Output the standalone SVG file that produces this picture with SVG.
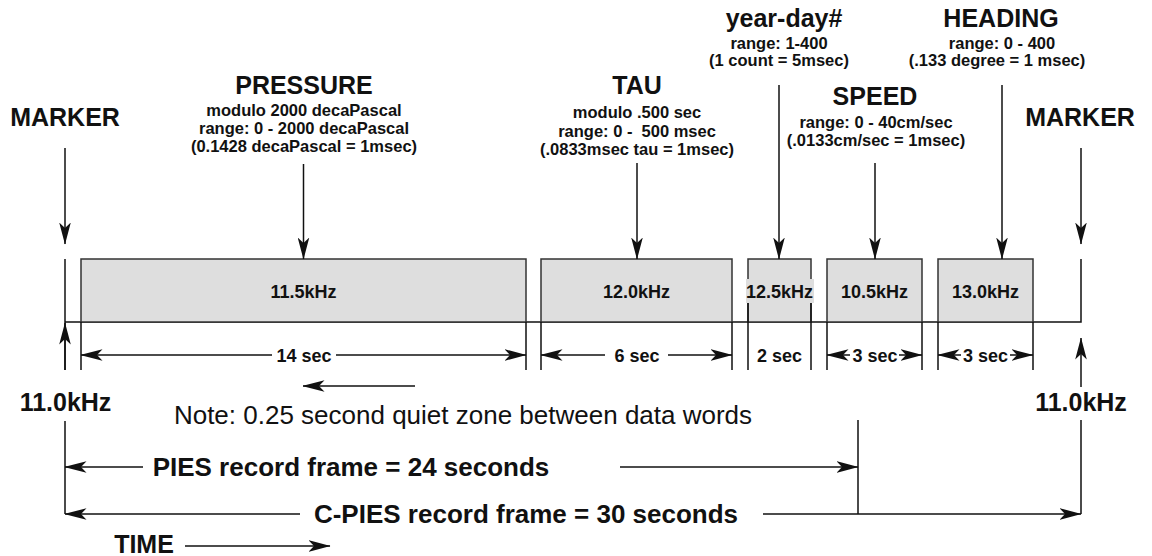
<svg xmlns="http://www.w3.org/2000/svg" width="1152" height="556" viewBox="0 0 1152 556">
  <defs>
    <!-- slim filled arrowhead with notched back, tip at refX -->
    <marker id="arrow" viewBox="0 0 22 12" markerWidth="22" markerHeight="12" refX="21.5" refY="6" orient="auto" markerUnits="userSpaceOnUse">
      <path d="M0,0.2 L22,6 L0,11.8 L5.5,6 Z" fill="#111"/>
    </marker>
  </defs>
  <style>
    text{font-family:"Liberation Sans",Arial,Helvetica,sans-serif;font-weight:bold;fill:#111;text-anchor:middle}
    .h{font-size:25px}
    .f{font-size:26px}
    .s{font-size:16.5px}
    .b{font-size:18px}
    .note{font-weight:normal;font-size:26px}
    .pre{white-space:pre}
    .ln{stroke:#111;stroke-width:1.5;fill:none}
    .arr{stroke:#111;stroke-width:1.5;fill:none;marker-end:url(#arrow)}
    .box{fill:#dedede;stroke:#333;stroke-width:1.5}
    .lblbg{fill:#dedede}
  </style>

  <rect x="0" y="0" width="1152" height="556" fill="#ffffff"/>

  <!-- time axis (11.0 kHz carrier level) -->
  <g id="axis">
    <path class="ln" d="M65,322 H1081 V259"/>
    <path class="ln" d="M65,259 V370"/>
  </g>

  <!-- data word bursts -->
  <g id="word-pressure">
    <rect class="box" x="81" y="259" width="445" height="63"/>
    <text class="b" x="303.5" y="298">11.5kHz</text>
  </g>
  <g id="word-tau">
    <rect class="box" x="541" y="259" width="191" height="63"/>
    <text class="b" x="636.5" y="298">12.0kHz</text>
  </g>
  <g id="word-yearday">
    <rect class="box" x="748" y="259" width="63" height="63"/>
    <rect class="lblbg" x="746" y="279" width="68" height="24"/>
    <text class="b" x="779.5" y="298">12.5kHz</text>
  </g>
  <g id="word-speed">
    <rect class="box" x="827" y="259" width="95" height="63"/>
    <text class="b" x="874.5" y="298">10.5kHz</text>
  </g>
  <g id="word-heading">
    <rect class="box" x="938" y="259" width="95" height="63"/>
    <text class="b" x="985.5" y="298">13.0kHz</text>
  </g>

  <!-- duration extension lines -->
  <g id="ticks">
    <path class="ln" d="M81,322 V370 M526,322 V370 M541,322 V370 M732,322 V370 M748,303 V370 M811,303 V370 M827,322 V370 M922,322 V370 M938,322 V370 M1033,322 V370"/>
  </g>

  <!-- field descriptions -->
  <g id="marker-left">
    <text class="h" x="65" y="126">MARKER</text>
  </g>
  <g id="pressure">
    <text class="h" x="304" y="94">PRESSURE</text>
    <text class="s" x="304" y="116">modulo 2000 decaPascal</text>
    <text class="s" x="304" y="134">range: 0 - 2000 decaPascal</text>
    <text class="s" x="304" y="152">(0.1428 decaPascal = 1msec)</text>
  </g>
  <g id="tau">
    <text class="h" x="637" y="94">TAU</text>
    <text class="s" x="637" y="118">modulo .500 sec</text>
    <text class="s pre" x="637" y="137">range: 0 -  500 msec</text>
    <text class="s" x="637" y="155">(.0833msec tau = 1msec)</text>
  </g>
  <g id="yearday">
    <text class="h" x="784" y="27">year-day#</text>
    <text class="s" x="779" y="49">range: 1-400</text>
    <text class="s" x="779" y="66">(1 count = 5msec)</text>
  </g>
  <g id="speed">
    <text class="h" x="875" y="105">SPEED</text>
    <text class="s" x="876" y="128">range: 0 - 40cm/sec</text>
    <text class="s" x="876" y="146">(.0133cm/sec = 1msec)</text>
  </g>
  <g id="heading">
    <text class="h" x="1001" y="27">HEADING</text>
    <text class="s" x="1002" y="49">range: 0 - 400</text>
    <text class="s" x="997" y="66">(.133 degree = 1 msec)</text>
  </g>
  <g id="marker-right">
    <text class="h" x="1080" y="126">MARKER</text>
  </g>

  <!-- durations -->
  <g id="dur-14">
    <text class="b" x="304" y="361.5">14 sec</text>
  </g>
  <g id="dur-6">
    <text class="b" x="637" y="361.5">6 sec</text>
  </g>
  <g id="dur-2">
    <text class="b" x="779.5" y="361.5">2 sec</text>
  </g>
  <g id="dur-3a">
    <text class="b" x="875" y="361.5">3 sec</text>
  </g>
  <g id="dur-3b">
    <text class="b" x="985.5" y="361.5">3 sec</text>
  </g>

  <!-- carrier labels and frame notes -->
  <g id="carrier-left">
    <text class="h" x="65.5" y="411">11.0kHz</text>
  </g>
  <g id="carrier-right">
    <text class="h" x="1081" y="411">11.0kHz</text>
  </g>
  <g id="note">
    <text class="note" x="463" y="424">Note: 0.25 second quiet zone between data words</text>
  </g>
  <g id="pies-frame">
    <text class="f" x="351" y="476">PIES record frame = 24 seconds</text>
  </g>
  <g id="cpies-frame">
    <text class="f" x="526" y="523">C-PIES record frame = 30 seconds</text>
  </g>
  <g id="time">
    <text class="h" x="144" y="553">TIME</text>
  </g>

  <!-- connectors -->
  <g id="connectors">
    <!-- pointers into the word bursts -->
    <path class="arr" d="M65,148 V244"/>
    <path class="arr" d="M1081,148 V244"/>
    <path class="arr" d="M303.5,164 V259"/>
    <path class="arr" d="M637,163 V259"/>
    <path class="arr" d="M779,85 V259"/>
    <path class="arr" d="M875,163 V259"/>
    <path class="arr" d="M1002,85 V259"/>
    <!-- carrier arrows -->
    <path class="arr" d="M65,370 V323"/>
    <path class="arr" d="M1081,387 V338"/>
    <!-- duration arrows -->
    <path class="arr" d="M272,355 H81"/>
    <path class="arr" d="M336,355 H526"/>
    <path class="arr" d="M605,355 H541"/>
    <path class="arr" d="M668,355 H732"/>
    <path class="arr" d="M850,355 H827"/>
    <path class="arr" d="M899,355 H922"/>
    <path class="arr" d="M961,355 H938"/>
    <path class="arr" d="M1010,355 H1033"/>
    <!-- quiet zone pointer -->
    <path class="arr" d="M415,386 H303"/>
    <!-- record frames -->
    <path class="ln" d="M65,421 V514 M858,420 V514 M1081,420 V514"/>
    <path class="arr" d="M143,467 H65"/>
    <path class="arr" d="M620,467 H858"/>
    <path class="arr" d="M300,514 H65"/>
    <path class="arr" d="M763,514 H1081"/>
    <!-- time direction -->
    <path class="arr" d="M185,546 H330"/>
  </g>
</svg>
